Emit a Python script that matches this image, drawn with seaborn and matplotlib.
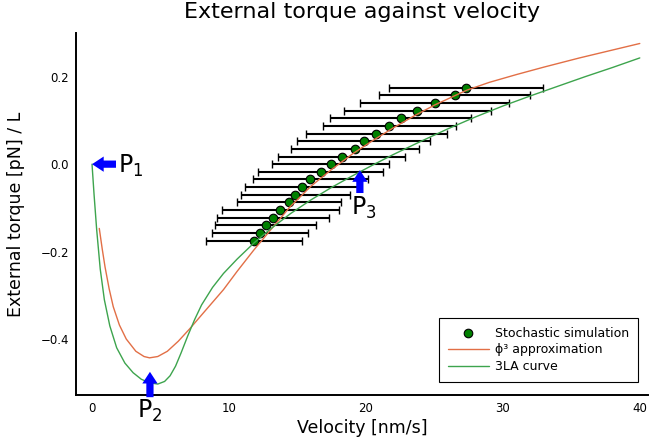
import matplotlib
matplotlib.use("Agg")
import matplotlib.pyplot as plt
import seaborn as sns
import pandas as pd

# ---- data ----
sim_velocity = [11.82, 12.26, 12.67, 13.21, 13.76, 14.36, 14.85, 15.31, 15.95, 16.71,
                17.43, 18.22, 19.21, 19.84, 20.76, 21.72, 22.54, 23.75, 25.01, 26.47, 27.30]
sim_velocity_err = [3.53, 3.53, 3.68, 4.12, 4.26, 3.79, 3.97, 4.15, 4.19, 4.56,
                    4.26, 4.66, 4.66, 4.85, 5.14, 4.88, 5.14, 5.36, 5.43, 5.50, 5.61]
sim_torque = [-0.175, -0.1575, -0.14, -0.1225, -0.105, -0.0875, -0.07, -0.0525, -0.035, -0.0175,
              0.0, 0.0175, 0.035, 0.0525, 0.07, 0.0875, 0.105, 0.1225, 0.14, 0.1575, 0.175]

phi3_velocity = [0.53, 0.75, 0.95, 1.25, 1.55, 2.0, 2.5, 3.2, 3.8, 4.2, 4.8, 5.5, 6.3, 7.15, 8.0,
                 8.8, 9.6, 10.6, 11.8, 13.0, 14.45, 16.0, 17.5, 19.0, 20.5, 22.0, 23.5, 25.0,
                 27.35, 29.0, 31.0, 33.0, 35.6, 38.0, 40.0]
phi3_torque = [-0.147, -0.195, -0.235, -0.285, -0.326, -0.368, -0.400, -0.428, -0.440, -0.443,
               -0.440, -0.428, -0.405, -0.376, -0.345, -0.316, -0.287, -0.245, -0.197, -0.152,
               -0.098, -0.05, -0.012, 0.023, 0.054, 0.083, 0.110, 0.135, 0.169, 0.187, 0.205,
               0.222, 0.243, 0.261, 0.276]

tla_velocity = [0.0, 0.15, 0.34, 0.6, 0.9, 1.3, 1.8, 2.4, 3.0, 3.6, 4.2, 4.8, 5.3, 5.7, 6.1, 6.5,
                7.0, 7.5, 8.0, 8.8, 9.6, 10.6, 11.8, 13.0, 14.5, 16.0, 17.5, 19.0, 20.5, 22.0,
                24.0, 26.0, 28.0, 30.0, 32.0, 34.0, 36.0, 38.0, 40.0]
tla_torque = [0.0, -0.07, -0.15, -0.24, -0.31, -0.37, -0.42, -0.455, -0.477, -0.492, -0.500,
              -0.503, -0.497, -0.484, -0.462, -0.432, -0.392, -0.355, -0.322, -0.282, -0.250,
              -0.217, -0.181, -0.149, -0.113, -0.0815, -0.053, -0.027, -0.002, 0.022, 0.052,
              0.081, 0.108, 0.133, 0.156, 0.178, 0.200, 0.221, 0.243]

point_labels = ["1", "2", "3"]
point_velocity = [0.0, 4.23, 19.56]
point_torque = [0.0, -0.475, -0.0137]

x_ticks = [0, 10, 20, 30, 40]
y_ticks = [-0.4, -0.2, 0.0, 0.2]

title = "External torque against velocity"
x_label = "Velocity [nm/s]"
y_label = "External torque [pN] / L"

# ---- style ----
sns.set_style("white")
plt.rcParams["font.family"] = ["DejaVu Sans"]
plt.rcParams["text.color"] = "black"
plt.rcParams["axes.labelcolor"] = "black"

orange = "#E26F46"
green_line = "#3DA44D"
marker_green = "#008000"

fig = plt.figure(figsize=(6.56, 4.44), dpi=100)
W, H = 656, 444
ax = fig.add_axes([76 / W, 1 - 395 / H, (648 - 76) / W, (395 - 33) / H])

sim_df = pd.DataFrame({"v": sim_velocity, "t": sim_torque, "err": sim_velocity_err})
phi_df = pd.DataFrame({"v": phi3_velocity, "t": phi3_torque})
tla_df = pd.DataFrame({"v": tla_velocity, "t": tla_torque})

ax.errorbar(sim_df["v"], sim_df["t"], xerr=sim_df["err"], fmt="none", ecolor="black",
            elinewidth=1.5, capsize=3.2, capthick=1.0, zorder=2)
sns.scatterplot(data=sim_df, x="v", y="t", ax=ax, color=marker_green, edgecolor="black",
                linewidth=0.8, s=38, zorder=3, label="Stochastic simulation")
sns.lineplot(data=phi_df, x="v", y="t", ax=ax, color=orange, linewidth=1.0, estimator=None,
             sort=False, zorder=4, label="ϕ³ approximation")
sns.lineplot(data=tla_df, x="v", y="t", ax=ax, color=green_line, linewidth=1.0, estimator=None,
             sort=False, zorder=4, label="3LA curve")

ax.set_xlim(-1.17, 40.6)
ax.set_ylim(-0.528, 0.3)
ax.set_xticks(x_ticks)
ax.set_yticks(y_ticks)
ax.tick_params(direction="in", length=4, width=1, labelsize=8.5, colors="black", pad=5)
for s in ["top", "right"]:
    ax.spines[s].set_visible(False)
for s in ["left", "bottom"]:
    ax.spines[s].set_color("black")
    ax.spines[s].set_linewidth(1.4)
ax.grid(False)

ax.set_title(title, fontsize=16, pad=11, color="black")
ax.set_xlabel(x_label, fontsize=12.5, labelpad=3, color="black")
ax.set_ylabel(y_label, fontsize=12.5, labelpad=11, color="black")

leg = ax.legend(loc="lower right", bbox_to_anchor=(0.9825, 0.036), fontsize=9,
                frameon=True, fancybox=False, framealpha=1, edgecolor="black",
                handlelength=3.3, labelspacing=0.3, borderpad=0.7, handletextpad=0.5,
                borderaxespad=0)
leg.get_frame().set_linewidth(0.8)
for t in leg.get_texts():
    t.set_color("black")

# ---- arrows and labels ----
arrow_style = "simple,head_width=0.55,head_length=0.42,tail_width=0.26"
tails = [(1.75, 0.0), (4.23, -0.533), (19.56, -0.066)]
label_pos = [(1.9, -0.004), (4.2, -0.535), (19.85, -0.069)]
label_align = [("left", "center"), ("center", "top"), ("center", "top")]
for lab, vx, ty, tail, lp, al in zip(point_labels, point_velocity, point_torque, tails,
                                     label_pos, label_align):
    ax.annotate("", xy=(vx, ty), xytext=tail,
                arrowprops=dict(arrowstyle=arrow_style, color="blue", mutation_scale=20,
                                shrinkA=0, shrinkB=0, lw=0),
                annotation_clip=False, zorder=6)
    ax.text(lp[0], lp[1], r"$\mathrm{P}_{" + lab + "}$", fontsize=17, ha=al[0], va=al[1],
            color="black", clip_on=False, zorder=6)

fig.savefig("out.png", dpi=100)
